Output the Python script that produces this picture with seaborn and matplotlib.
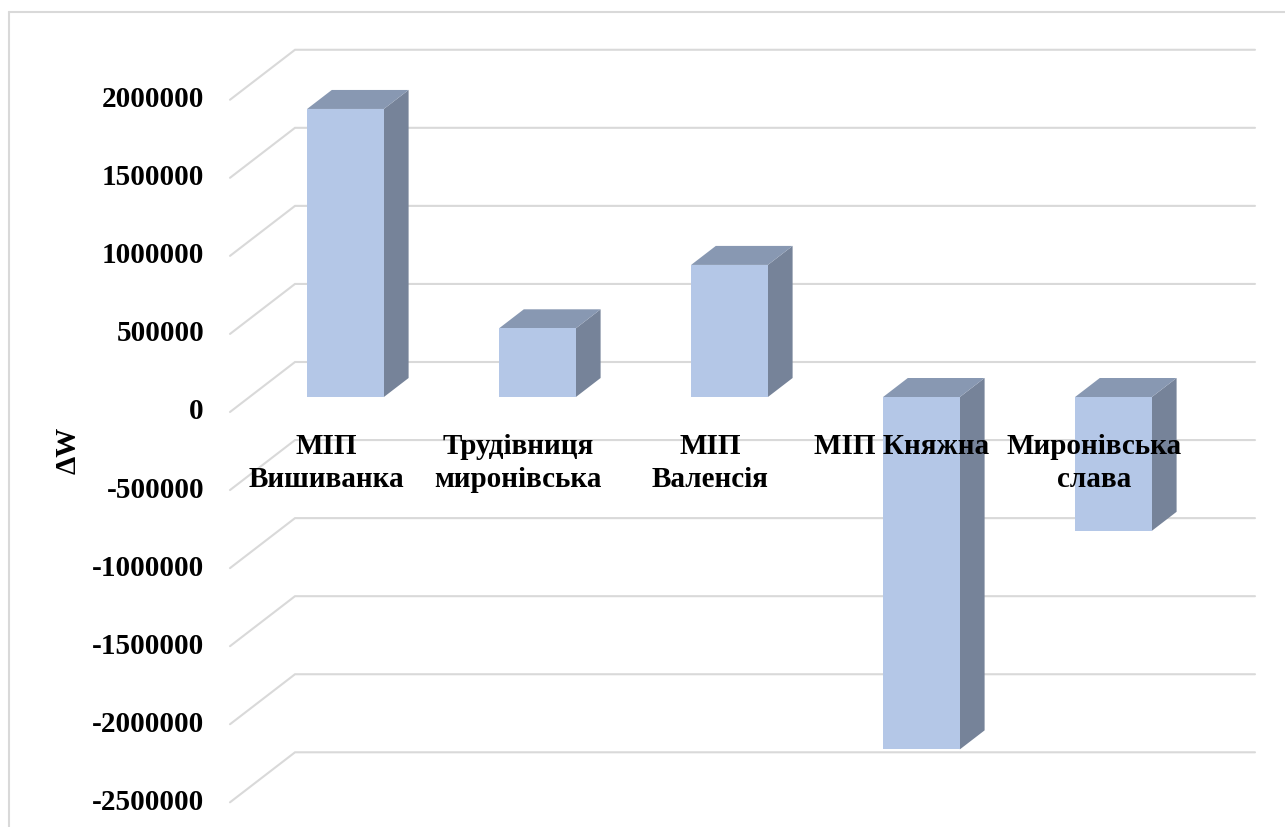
import matplotlib
matplotlib.use("Agg")
import matplotlib.pyplot as plt
import matplotlib.transforms as mtransforms
from matplotlib.patches import Polygon
from matplotlib.lines import Line2D
import seaborn as sns
import pandas as pd
import numpy as np

# --- data -------------------------------------------------------------
categories = ["МІП\nВишиванка", "Трудівниця\nмиронівська", "МІП\nВаленсія",
              "МІП Княжна", "Миронівська\nслава"]
delta_w = [1845000, 440000, 846000, -2257000, -857000]
tick_values = [2000000, 1500000, 1000000, 500000, 0, -500000,
               -1000000, -1500000, -2000000, -2500000]
y_label = "ΔW"

# --- style --------------------------------------------------------------
sns.set_theme(style="white")
plt.rcParams["font.family"] = ["Liberation Serif", "DejaVu Serif"]
plt.rcParams["font.weight"] = "bold"

FRONT = "#b4c7e7"
SIDE = "#768399"
TOP = "#8898b2"
GRID = "#d9d9d9"

W, H = 1285, 827
fig = plt.figure(figsize=(W / 100, H / 100), dpi=100)
fig.patch.set_facecolor("white")
ax = fig.add_axes([0, 0, 1, 1])

df = pd.DataFrame({"category": categories, "dw": delta_w})
sns.barplot(data=df, x="category", y="dw", order=categories, width=0.4,
            color=FRONT, saturation=1, edgecolor="none", ax=ax, zorder=3)

# pixel geometry of the plot area (layout)
PX_PER_CAT = 192.0
X0_PX = 345.5          # centre of the first bar's front face
ZERO_PX = 397.0        # zero level on the bars' front plane
PX_PER_VAL = 78.06 / 500000
ax.set_xlim(-X0_PX / PX_PER_CAT, (W - X0_PX) / PX_PER_CAT)
ax.set_ylim(-(H - ZERO_PX) / PX_PER_VAL, ZERO_PX / PX_PER_VAL)
ax.axis("off")

# oblique depth vector (full depth of the floor)
DX = 65.0 / PX_PER_CAT
DY = 50.0 / PX_PER_VAL
D_BAR = 0.3            # depth of the bars' front faces
BAR_DEPTH = 0.38


def proj(x, v, d):
    return x + (d - D_BAR) * DX, v + (d - D_BAR) * DY


# gridlines: side wall diagonals and back wall
x_left, x_right = -0.5, len(categories) - 0.5
for t in tick_values:
    fx, fy = proj(x_left, t, 0.0)
    bx, by = proj(x_left, t, 1.0)
    ex, ey = proj(x_right, t, 1.0)
    ax.plot([fx, bx, ex], [fy, by, ey], color=GRID, lw=1.5,
            solid_joinstyle="miter", zorder=1)

# side and top faces of each bar
bdx, bdy = BAR_DEPTH * DX, BAR_DEPTH * DY
for p in list(ax.patches):
    x0 = p.get_x()
    x1 = x0 + p.get_width()
    lo = min(p.get_y(), p.get_y() + p.get_height())
    hi = max(p.get_y(), p.get_y() + p.get_height())
    side = Polygon([(x1, lo), (x1, hi), (x1 + bdx, hi + bdy), (x1 + bdx, lo + bdy)],
                   closed=True, facecolor=SIDE, edgecolor="none", zorder=2)
    top = Polygon([(x0, hi), (x1, hi), (x1 + bdx, hi + bdy), (x0 + bdx, hi + bdy)],
                  closed=True, facecolor=TOP, edgecolor="none", zorder=2)
    ax.add_patch(side)
    ax.add_patch(top)

# value tick labels on the front edge of the side wall
tick_tr = mtransforms.offset_copy(ax.transData, fig=fig, x=-26, y=0, units="dots")
for t in tick_values:
    fx, fy = proj(x_left, t, 0.0)
    ax.text(fx, fy, f"{t:d}", transform=tick_tr, ha="right", va="center",
            fontsize=21, fontweight="bold", color="black", zorder=5)

# category labels on the front plane
cat_tr = mtransforms.offset_copy(ax.transData, fig=fig, x=0, y=-21, units="dots")
for i, c in enumerate(categories):
    fx, fy = proj(i, 0, 0.0)
    ax.text(fx, fy, c, transform=cat_tr, ha="center", va="top",
            fontsize=21, fontweight="bold", color="black", linespacing=1.27,
            multialignment="center", zorder=6)

# axis title
fig.text(68 / W, 1 - 450 / H, y_label, rotation=90, ha="center", va="center",
         fontsize=21, fontweight="bold", color="black")

# chart frame
fig.add_artist(Line2D([9 / W, 9 / W], [0, 1 - 12 / H], transform=fig.transFigure,
                      color=GRID, lw=1.5))
fig.add_artist(Line2D([9 / W, 1], [1 - 12 / H, 1 - 12 / H], transform=fig.transFigure,
                      color=GRID, lw=1.5))

fig.savefig("out.png", dpi=100, facecolor="white")
